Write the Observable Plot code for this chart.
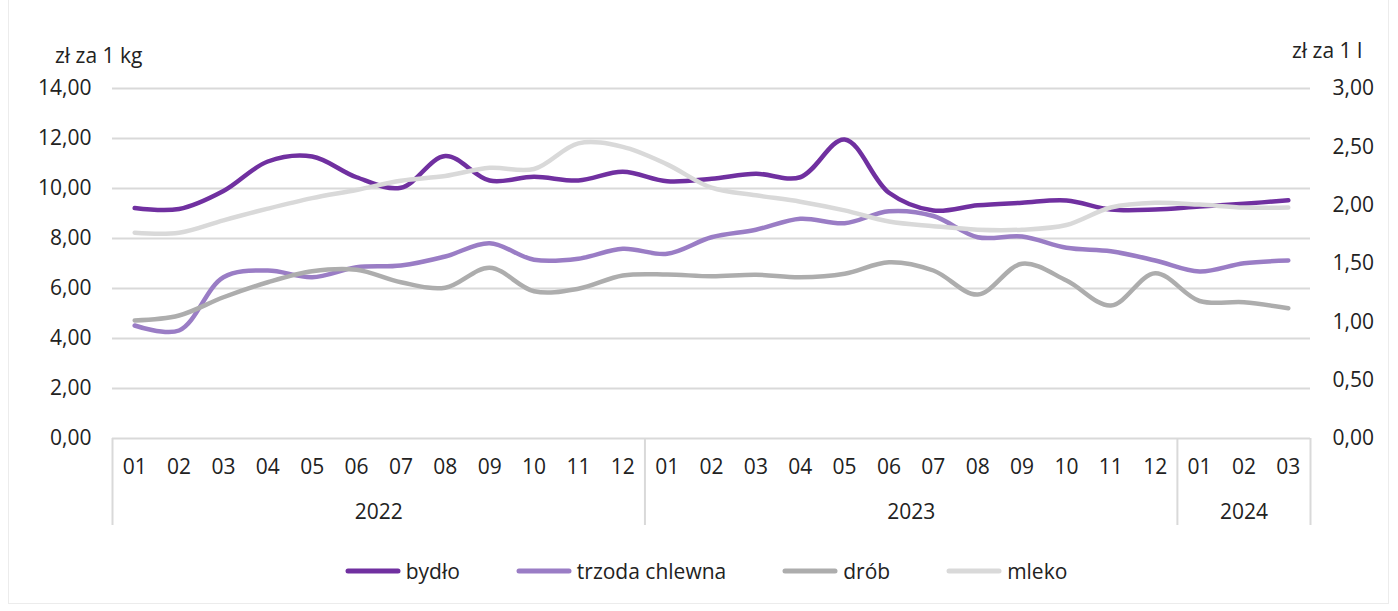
<!DOCTYPE html>
<html><head><meta charset="utf-8">
<script src="https://cdn.jsdelivr.net/npm/d3@7"></script>
<script src="https://cdn.jsdelivr.net/npm/@observablehq/plot@0.6"></script>
<style>
body{margin:0;background:#fff;font-family:"Open Sans",sans-serif;color:#222;}
#wrap{position:relative;width:1398px;height:611px;overflow:hidden;}
#frame{position:absolute;left:8px;top:-2px;width:1381px;height:606px;border:1px solid #ececec;box-sizing:border-box;}
#chart{position:absolute;left:0;top:0;}
.title{position:absolute;font-size:21px;line-height:21px;white-space:nowrap;}
#legend{position:absolute;left:0;width:1412px;top:556px;height:30px;display:flex;justify-content:center;align-items:center;font-size:21px;line-height:30px;}
.item{display:flex;align-items:center;margin:0 28px;}
.item svg{margin-right:5px;}
</style></head><body><div id="wrap"><div id="frame"></div><div id="chart"></div>
<div class="title" id="tl" style="left:55px;top:45px">zł za 1 kg</div>
<div class="title" id="tr" style="left:1292px;top:40px">zł za 1 l</div>
<div id="legend"></div></div>
<script>
const months = ["01","02","03","04","05","06","07","08","09","10","11","12","01","02","03","04","05","06","07","08","09","10","11","12","01","02","03"];
const yearLabels = ["2022","2023","2024"];
const yearFrom = [0,12,24];
const yearTo = [11,23,26];
const seriesNames = ["bydło","trzoda chlewna","drób","mleko"];
const colors = ["#7030A0","#9A7DC5","#ADADAD","#D9D9D9"];
const bydlo = [9.22,9.18,9.9,11.08,11.28,10.45,10.03,11.3,10.32,10.47,10.32,10.67,10.29,10.39,10.59,10.45,11.96,9.83,9.12,9.33,9.43,9.52,9.16,9.16,9.28,9.39,9.53];
const trzoda = [4.52,4.32,6.45,6.72,6.45,6.85,6.92,7.28,7.81,7.15,7.19,7.59,7.39,8.05,8.35,8.79,8.61,9.09,8.9,8.05,8.08,7.63,7.49,7.12,6.68,7.01,7.12];
const drob = [4.72,4.92,5.65,6.25,6.69,6.75,6.25,6.03,6.83,5.89,5.99,6.52,6.56,6.49,6.55,6.45,6.59,7.05,6.72,5.76,6.99,6.32,5.32,6.61,5.5,5.45,5.21];
const mleko = [1.764,1.764,1.87,1.97,2.06,2.13,2.21,2.25,2.32,2.31,2.53,2.5,2.35,2.15,2.085,2.03,1.955,1.86,1.82,1.79,1.79,1.83,1.98,2.02,2.005,1.98,1.98];
const leftTicks = [0,2,4,6,8,10,12,14];
const rightTicks = [0,0.5,1,1.5,2,2.5,3];

const k = leftTicks[leftTicks.length-1] / rightTicks[rightTicks.length-1];
const fmt = d => (Math.round(d*100)/100).toFixed(2).replace(".", ",");
const rows = [];
[bydlo, trzoda, drob].forEach((arr, s) => arr.forEach((v, i) => rows.push({i, v, s: seriesNames[s]})));
mleko.forEach((v, i) => rows.push({i, v: v * k, s: seriesNames[3]}));
const years = yearLabels.map((label, j) => ({label, c: (yearFrom[j] + yearTo[j]) / 2}));
const bounds = [yearFrom[0] - 0.5, ...yearTo.map(t => t + 0.5)];

const plot = Plot.plot({
  width: 1398, height: 540,
  marginLeft: 112, marginRight: 88, marginTop: 88, marginBottom: 102,
  style: {fontFamily: "Open Sans", fontSize: "21px", color: "#222", background: "transparent", overflow: "visible"},
  x: {type: "linear", domain: [-0.5, months.length - 0.5]},
  y: {domain: [0, 14]},
  color: {domain: seriesNames, range: colors},
  marks: [
    Plot.gridY(leftTicks, {stroke: "#d9d9d9", strokeOpacity: 1, strokeWidth: 2}),
    Plot.axisY(leftTicks, {anchor: "left", tickSize: 0, tickPadding: 21, tickFormat: fmt, label: null, fontSize: 21}),
    Plot.axisY(rightTicks.map(v => v * k), {anchor: "right", tickSize: 0, tickPadding: 22, tickFormat: d => fmt(d / k), label: null, fontSize: 21}),
    Plot.axisX(d3.range(months.length), {anchor: "bottom", tickSize: 0, tickPadding: 21, tickFormat: i => months[i], label: null, fontSize: 21}),
    Plot.axisX(bounds, {anchor: "bottom", tickSize: 87, tickFormat: () => "", stroke: "#d9d9d9", strokeWidth: 2, strokeOpacity: 1, label: null}),
    Plot.text(years, {x: "c", y: () => 0, dy: 74, text: "label", fontSize: 21, fill: "#222"}),
    Plot.line(rows, {x: "i", y: "v", z: "s", stroke: "s", strokeWidth: 4.5, curve: "catmull-rom", strokeLinecap: "round", strokeLinejoin: "round"})
  ]
});
document.getElementById("chart").appendChild(plot);

const lg = document.getElementById("legend");
seriesNames.forEach((n, i) => {
  const it = document.createElement("div");
  it.className = "item";
  it.innerHTML = `<svg width="56" height="10"><line x1="3" y1="5" x2="53" y2="5" stroke="${colors[i]}" stroke-width="5" stroke-linecap="round"/></svg><span>${n}</span>`;
  lg.appendChild(it);
});
</script></body></html>
